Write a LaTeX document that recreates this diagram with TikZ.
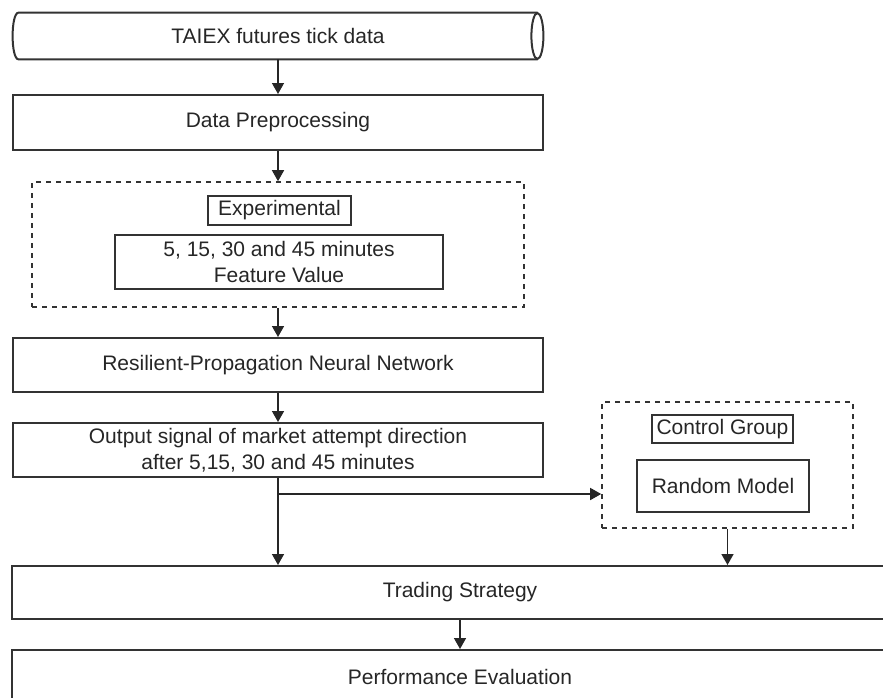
\documentclass[tikz,border=0pt]{standalone}
\usepackage{fontspec}
\setmainfont{Liberation Sans}
\usetikzlibrary{arrows.meta}
\begin{document}
\begin{tikzpicture}[x=0.5pt,y=-0.5pt,
  every node/.style={font=\fontsize{10.5}{13}\selectfont,text=black!85,align=center},
  box/.style={draw=black!80,line width=1pt,inner sep=0pt},
  grp/.style={draw=black!80,line width=0.8pt,dash pattern=on 2.5pt off 2.5pt,inner sep=0pt},
  arr/.style={draw=black!85,line width=0.75pt,-{Triangle[length=5.5pt,width=6pt]}}]
\clip (0,0) rectangle (883,697);
% main column
\node[inner sep=0pt,minimum width=265pt,minimum height=23pt] (tick) at (278,36) {TAIEX futures tick data};
\draw[box] ([xshift=3pt]tick.north west) -- ([xshift=-3pt]tick.north east)
  ([xshift=-3pt]tick.south east) -- ([xshift=3pt]tick.south west)
  .. controls ([xshift=-1pt]tick.south west) and ([xshift=-1pt]tick.north west) .. ([xshift=3pt]tick.north west);
\draw[box] ([xshift=-3pt]tick.east) ellipse [x radius=3pt,y radius=11.5pt];
\node[box,minimum width=265pt,minimum height=27.5pt] (prep) at (278,122.5) {Data Preprocessing};
% experimental group
\node[grp,minimum width=246pt,minimum height=62.5pt] (expgrp) at (278,244.5) {};
\node[box,minimum width=71.5pt,minimum height=14.5pt] (explbl) at (279.5,210.5) {Experimental};
\node[box,minimum width=164pt,minimum height=27pt] (feat) at (279,262) {5, 15, 30 and 45 minutes\\Feature Value};
\node[box,minimum width=265pt,minimum height=27pt] (rprop) at (278,365) {Resilient-Propagation Neural Network};
\node[box,minimum width=265pt,minimum height=27pt] (outsig) at (278,450) {Output signal of market attempt direction\\after 5,15, 30 and 45 minutes};
% control group
\node[grp,minimum width=125.5pt,minimum height=63pt] (ctrlgrp) at (727.5,465) {};
\node[box,minimum width=70.5pt,minimum height=14pt] (ctrllbl) at (722.5,429) {Control Group};
\node[box,minimum width=86pt,minimum height=26pt] (rand) at (723,486) {Random Model};
% strategy and evaluation
\node[box,minimum width=448pt,minimum height=26.5pt] (trade) at (460,592.5) {Trading Strategy};
\node[box,minimum width=448pt,minimum height=27pt] (perf) at (460,677) {Performance Evaluation};
% arrows
\draw[arr] (tick) -- (prep);
\draw[arr] (prep) -- (expgrp);
\draw[arr] (expgrp) -- (rprop);
\draw[arr] (rprop) -- (outsig);
\draw[arr] (outsig.south) -- (outsig.south |- trade.north);
\coordinate (br) at (278,494);
\draw[arr] (br) -- (br -| ctrlgrp.west);
\draw[arr] (ctrlgrp.south) -- (ctrlgrp.south |- trade.north);
\draw[arr] (trade) -- (perf);
\end{tikzpicture}
\end{document}
